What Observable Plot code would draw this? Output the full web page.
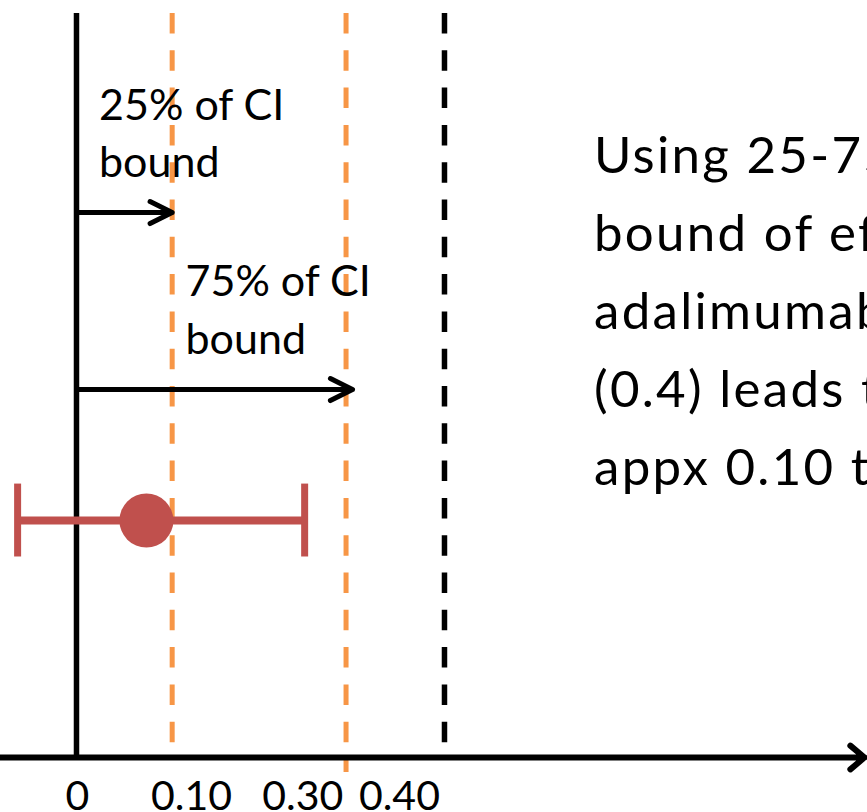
<!DOCTYPE html>
<html>
<head>
<meta charset="utf-8">
<script src="https://cdn.jsdelivr.net/npm/d3@7"></script>
<script src="https://cdn.jsdelivr.net/npm/@observablehq/plot@0.6"></script>
<style>
  html, body { margin: 0; padding: 0; background: #fff; overflow: hidden; }
  #chart { width: 867px; height: 812px; overflow: hidden; }
  #chart svg { overflow: hidden; }
</style>
</head>
<body>
<div id="chart"></div>
<script>
// ---- values ----
const zeroValue = 0;                         // solid reference line
const ciBoundValue = 0.4;                    // black dashed line (CI bound)
const ciFractionLabels = ["25% of CI\nbound", "75% of CI\nbound"];
const ciFractionValues = [0.104, 0.293];     // orange dashed lines
const arrowEnds = [0.104, 0.300];            // arrow tips
const estimate = 0.076;                      // point estimate
const ciLow = -0.064;
const ciHigh = 0.248;
const tickLabels = ["0", "0.10", "0.30", "0.40"];
const tickLabelValues = [0.001, 0.125, 0.246, 0.351];
const noteLines = ["Using 25-75% of CI", "bound of effect of", "adalimumab vs placebo", "(0.4) leads to", "appx 0.10 to 0.30"];

const ORANGE = "#F79646";
const RED = "#C0504D";
const FONT = "Lato";

// vertical layout rows (fraction of the plot height above the axis)
const rowArrow = [0.7325, 0.4946];
const rowLabel = [0.7796, 0.543];
const labelX = [0.0245, 0.1185];
const rowCI = 0.3185;

const arrows = arrowEnds.map((x2, i) => ({x1: zeroValue, x2, y: rowArrow[i]}));
const labels = ciFractionLabels.map((t, i) => ({text: t, x: labelX[i], y: rowLabel[i]}));
const ticks = tickLabels.map((t, i) => ({text: t, x: tickLabelValues[i]}));

const xLeft = -0.0826, xRight = 0.8598;

const chart = Plot.plot({
  width: 867,
  height: 812,
  margin: 0,
  style: {background: "#fff", overflow: "hidden"},
  x: {domain: [xLeft, xRight], range: [0, 867], axis: null},
  y: {domain: [0, 1], range: [757, 13], axis: null},
  marks: [
    // orange dashed lines (25% / 75%)
    Plot.ruleX([ciFractionValues[0]], {x: d => d, y1: 1, y2: 0, stroke: ORANGE, strokeWidth: 5, strokeDasharray: "20.5,16.8"}),
    Plot.ruleX([ciFractionValues[1]], {x: d => d, y1: 1, y2: -0.02, stroke: ORANGE, strokeWidth: 5, strokeDasharray: "20.5,16.8"}),
    // black dashed CI bound
    Plot.ruleX([ciBoundValue], {x: d => d, y1: 1, y2: 0, stroke: "#000", strokeWidth: 5.5, strokeDasharray: "20.5,16.8"}),
    // solid zero line
    Plot.ruleX([zeroValue], {x: d => d, y1: 1, y2: 0, stroke: "#000", strokeWidth: 5.5}),
    // x axis arrow
    Plot.arrow([{x1: xLeft, x2: 0.8565, y: 0}], {x1: "x1", x2: "x2", y1: "y", y2: "y", stroke: "#000", strokeWidth: 6, headLength: 4.6, headAngle: 80, strokeLinecap: "round", strokeLinejoin: "round"}),
    // annotation arrows
    Plot.arrow(arrows, {x1: "x1", x2: "x2", y1: "y", y2: "y", stroke: "#000", strokeWidth: 5, headLength: 7.4, headAngle: 53, strokeLinecap: "round", strokeLinejoin: "round"}),
    // CI error bar
    Plot.ruleY([rowCI], {y: d => d, x1: ciLow, x2: ciHigh, stroke: RED, strokeWidth: 8}),
    Plot.ruleX([ciLow, ciHigh], {x: d => d, y1: rowCI - 0.049, y2: rowCI + 0.049, stroke: RED, strokeWidth: 7}),
    Plot.dot([estimate], {x: d => d, y: rowCI, r: 27, fill: RED, stroke: "none"}),
    // annotation labels
    Plot.text(labels, {x: "x", y: "y", text: "text", textAnchor: "start", lineAnchor: "bottom", lineHeight: 1.326, fontSize: 43, fontFamily: FONT, fill: "#000"}),
    // tick labels
    Plot.text(ticks, {x: "x", y: -0.0699, text: "text", textAnchor: "middle", lineAnchor: "bottom", fontSize: 41, fontFamily: FONT, fill: "#000"}),
    // note text
    Plot.text([noteLines.join("\n")], {x: 0.5625, y: 0.3656, text: d => d, textAnchor: "start", lineAnchor: "bottom", lineHeight: 1.53, fontSize: 51, fontFamily: FONT, fill: "#000"})
  ]
});
document.getElementById("chart").appendChild(chart);
// widen the note text's tracking to match the reference's wider face
const textGroups = d3.select(chart).selectAll("g[aria-label='text']").nodes();
d3.select(textGroups[textGroups.length - 1]).style("letter-spacing", "2.3px");
</script>
</body>
</html>
